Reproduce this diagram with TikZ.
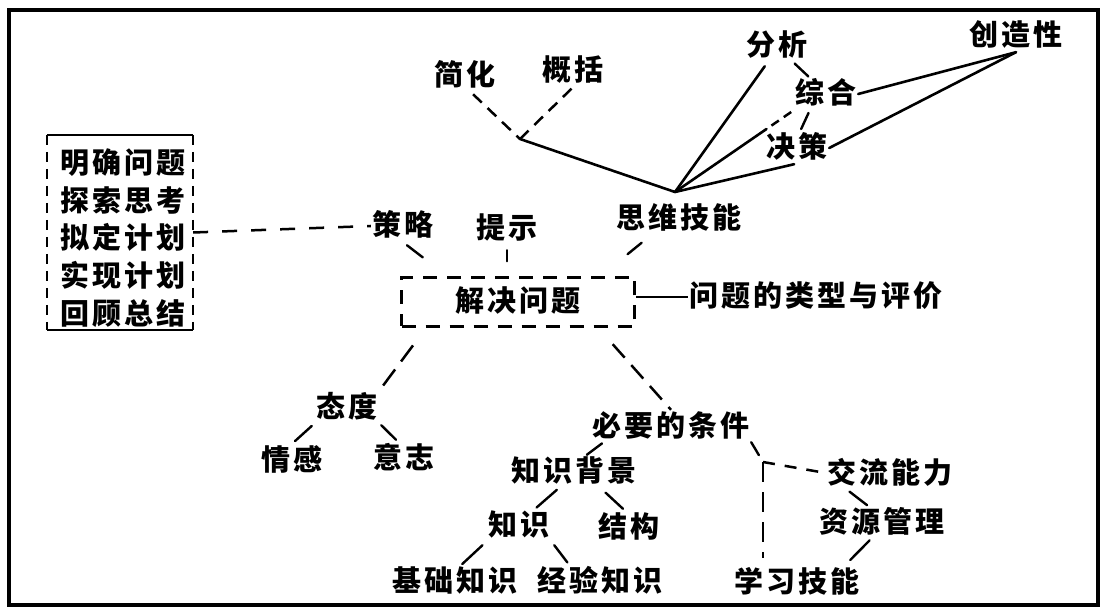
\documentclass[tikz,border=0pt]{standalone}
\usepackage{fontspec}
\newfontfamily\cjkf{Noto Sans CJK SC}
\usetikzlibrary{calc}
\def\mylsend{}
\def\lsx#1#2\mylsend{#1\if\relax\detokenize{#2}\relax\else\kern3pt\lsx#2\mylsend\fi}
\newcommand\ls[1]{\lsx#1\mylsend}
\begin{document}
\begin{tikzpicture}[x=1pt,y=-1pt,
  lbl/.style={font=\fontsize{29pt}{34pt}\selectfont\cjkf\bfseries, inner sep=1.5pt, text height=24.5pt, text depth=4.5pt},
  sol/.style={line width=2.6pt, line cap=round},
  seg/.style={line width=2.4pt, line cap=round},
  dsh/.style={line width=2.5pt, dash pattern=on 14pt off 10pt},
  frame/.style={line width=4pt},
  boxsol/.style={line width=2.5pt},
  boxdsh/.style={line width=2.5pt, dash pattern=on 10pt off 7pt}]
\fill[white] (0,0) rectangle (1103,612);
\useasboundingbox (0,0) rectangle (1103,612);
\draw[frame] (9,10) rectangle (1098,605);

% left box
\node[minimum width=146pt, minimum height=195pt, inner sep=0pt] (bx) at (120,232.5) {};
\draw[boxsol] (bx.north west) -- (bx.north east);
\draw[boxsol] (bx.south west) -- (bx.south east);
\draw[boxdsh] (bx.north west) -- (bx.south west);
\draw[boxdsh] (bx.north east) -- (bx.south east);
\node[font=\fontsize{29pt}{37.75pt}\selectfont\cjkf\bfseries, align=center, inner sep=0pt] (steps) at (123,238)
  {\ls{明确问题}\\\ls{探索思考}\\\ls{拟定计划}\\\ls{实现计划}\\\ls{回顾总结}};

% labels
\node[lbl] (jh) at (465,76) {\ls{简化}};
\node[lbl] (gk) at (573,71) {\ls{概括}};
\node[lbl] (fx) at (777,46) {\ls{分析}};
\node[lbl] (zh) at (826,94) {\ls{综合}};
\node[lbl] (jc) at (797,148) {\ls{决策}};
\node[lbl] (cz) at (1016,36) {\ls{创造性}};
\node[lbl] (sw) at (679,219) {\ls{思维技能}};
\node[lbl] (cl) at (403,226) {\ls{策略}};
\node[lbl] (ts) at (507,229) {\ls{提示}};
\node[lbl, draw, dsh, minimum width=233pt, minimum height=49pt] (jj) at (518,302) {\ls{解决问题}};
\node[lbl] (lx) at (816,297) {\ls{问题的类型与评价}};
\node[lbl] (td) at (347,407) {\ls{态度}};
\node[lbl] (qg) at (292,460) {\ls{情感}};
\node[lbl] (yz) at (404,458) {\ls{意志}};
\node[lbl] (by) at (671,426) {\ls{必要的条件}};
\node[lbl] (zb) at (574,471) {\ls{知识背景}};
\node[lbl] (zs) at (519,525) {\ls{知识}};
\node[lbl] (jg) at (629,527) {\ls{结构}};
\node[lbl] (jczs) at (455,581) {\ls{基础知识}};
\node[lbl] (jyzs) at (600,581) {\ls{经验知识}};
\node[lbl] (jl) at (890,473) {\ls{交流能力}};
\node[lbl] (zy) at (882,522) {\ls{资源管理}};
\node[lbl] (xx) at (797,582) {\ls{学习技能}};

\coordinate (J) at (520,139);
\coordinate (A) at (675,192);
\coordinate (K) at (763,462);

% thinking skills branch
\draw[dsh, dash pattern=on 12pt off 8pt, shorten <=3pt] (jh.-70) -- (J);
\draw[dsh, dash pattern=on 12pt off 8pt] (J) -- (gk.south);
\draw[sol] (J) -- (A);
\draw[sol, shorten >=5pt] (A) -- (fx.-120);
\draw[sol] (A) -- ($(A)!0.77!(zh.south west)$);
\draw[dsh, dash pattern=on 9pt off 6pt, dash phase=9pt] ($(A)!0.77!(zh.south west)$) -- (zh.south west);
\draw[sol] (A) -- (jc.-100);
\draw[seg, shorten <=2pt, shorten >=2pt] (fx.-45) -- (zh.135);
\draw[seg, shorten <=3pt, shorten >=3pt] (zh.-135) -- (jc.80);
\draw[sol] (zh.east) -- (cz.south);
\draw[sol] (jc.east) -- (cz.south);

% around the central box
\draw[seg, shorten <=12pt, shorten >=35pt] (sw.-150) -- ($(jj.north west)!0.85!(jj.north east)$);
\draw[seg, shorten <=5pt, shorten >=15pt] (ts.south) -- (ts.south |- jj.north);
\draw[seg, shorten <=5pt, shorten >=31pt] (cl.south) -- ($(jj.north west)!0.2!(jj.north east)$);
\draw[dsh, dash pattern=on 15pt off 14pt] (bx.east) -- (cl.west);
\draw[line width=2pt] (jj.east |- lx.west) -- (lx.west);

% attitude
\draw[dsh, dash pattern=on 20pt off 10pt, shorten <=22pt, shorten >=2pt] ($(jj.south west)!0.11!(jj.south east)$) -- (td.north east);
\draw[seg, shorten <=4pt, shorten >=4pt] (td.south west) -- (qg.north);
\draw[seg, shorten <=3pt, shorten >=3pt] (td.south east) -- (yz.110);

% conditions
\draw[dsh, dash pattern=on 18pt off 10pt, shorten <=22pt] ($(jj.south west)!0.84!(jj.south east)$) -- (by.north);
\draw[seg, shorten <=2pt] ($(by.south west)!0.08!(by.south east)$) -- ($(zb.north west)!0.6!(zb.north east)$);
\draw[seg, shorten <=4pt, shorten >=2pt] ($(zb.south west)!0.39!(zb.south east)$) -- ($(zs.north west)!0.75!(zs.north east)$);
\draw[seg, shorten <=8pt, shorten >=3pt] ($(zb.south west)!0.70!(zb.south east)$) -- ($(jg.north west)!0.44!(jg.north east)$);
\draw[seg, shorten <=6pt, shorten >=1pt] (zs.south west) -- ($(jczs.north west)!0.55!(jczs.north east)$);
\draw[seg, shorten <=5pt, shorten >=3pt] (zs.south east) -- ($(jyzs.north west)!0.26!(jyzs.north east)$);
\draw[seg, shorten >=8pt] (by.south east) -- (K);
\draw[dsh, dash pattern=on 12pt off 10pt] (K) -- (jl.west);
\draw[dsh, dash pattern=on 20pt off 10pt, shorten >=8pt] (K) -- (K |- xx.north);
\draw[seg, shorten <=4pt, shorten >=1pt] ($(jl.south west)!0.16!(jl.south east)$) -- ($(zy.north west)!0.39!(zy.north east)$);
\draw[seg, shorten <=3pt, shorten >=8pt] ($(zy.south west)!0.42!(zy.south east)$) -- ($(xx.north west)!0.87!(xx.north east)$);
\end{tikzpicture}
\end{document}
